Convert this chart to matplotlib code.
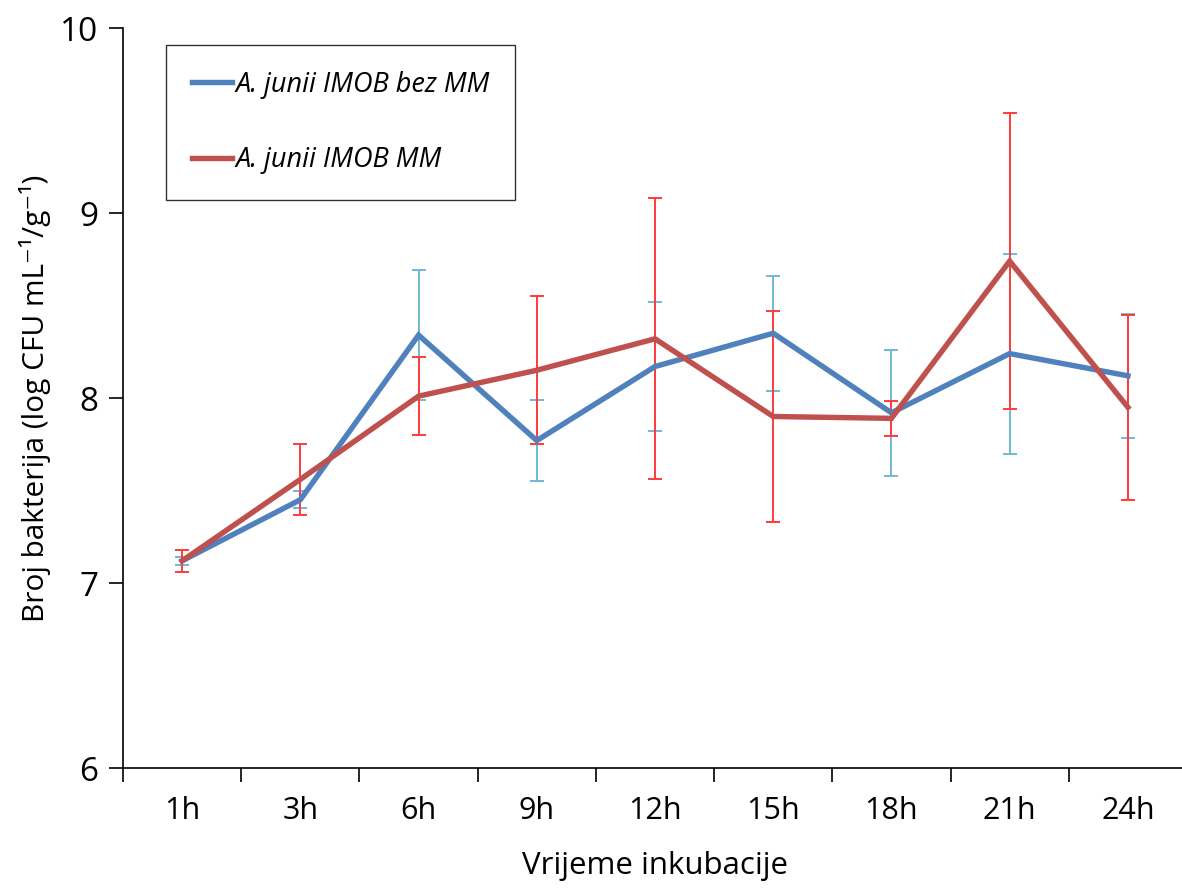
import matplotlib
matplotlib.use("Agg")
import matplotlib.pyplot as plt
import numpy as np

categories = ["1h", "3h", "6h", "9h", "12h", "15h", "18h", "21h", "24h"]
bez_mm = [7.12, 7.45, 8.34, 7.77, 8.17, 8.35, 7.92, 8.24, 8.12]
bez_mm_err = [0.02, 0.045, 0.35, 0.22, 0.35, 0.31, 0.34, 0.54, 0.335]
mm = [7.12, 7.56, 8.01, 8.15, 8.32, 7.90, 7.89, 8.74, 7.95]
mm_err = [0.06, 0.19, 0.21, 0.40, 0.76, 0.57, 0.095, 0.80, 0.50]
series_names = ["A. junii IMOB bez MM", "A. junii IMOB MM"]

plt.rcParams['font.family'] = ['Open Sans', 'DejaVu Sans']

fig = plt.figure(figsize=(11.82, 8.88), dpi=100)
ax = fig.add_axes([123/1182, 120/888, (1187-123)/1182, 740/888])

x = np.arange(len(categories))
ax.errorbar(x, bez_mm, yerr=bez_mm_err, fmt='none', ecolor='#6FBAD3',
            elinewidth=1.4, capsize=5, capthick=1.4, zorder=2)
ax.errorbar(x, mm, yerr=mm_err, fmt='none', ecolor='#FF3B3B',
            elinewidth=1.4, capsize=5, capthick=1.4, zorder=3)
ax.plot(x, bez_mm, color='#4F81BD', lw=3.9, label=series_names[0], zorder=4,
        solid_joinstyle='miter')
ax.plot(x, mm, color='#C0504D', lw=3.9, label=series_names[1], zorder=5,
        solid_joinstyle='miter')

ax.set_ylim(6, 10)
ax.set_yticks([6, 7, 8, 9, 10])
ax.set_xlim(-0.5, len(categories) - 0.5)
ax.set_xticks(x)
ax.set_xticklabels(categories)
ax.set_xticks(np.arange(-0.5, len(categories), 1.0), minor=True)
ax.tick_params(axis='x', which='major', length=0, pad=20, labelsize=22)
ax.tick_params(axis='x', which='minor', length=10, width=1.2, direction='out')
ax.tick_params(axis='y', which='major', length=10, width=1.2, direction='out',
               pad=8, labelsize=24)

for s in ['top', 'right']:
    ax.spines[s].set_visible(False)
for s in ['left', 'bottom']:
    ax.spines[s].set_linewidth(1.2)

ax.set_xlabel("Vrijeme inkubacije", fontsize=22.5, labelpad=18)
ax.set_ylabel("Broj bakterija (log CFU mL⁻¹/g⁻¹)", fontsize=21.5, labelpad=6)

leg = ax.legend(loc='upper left', bbox_to_anchor=(43/1064, 1 - 17/740),
                frameon=True, fancybox=False, edgecolor='black',
                prop={'style': 'italic', 'size': 19.5}, handlelength=1.5,
                handletextpad=0.1, labelspacing=1.75, borderpad=0.95,
                borderaxespad=0)
leg.get_frame().set_linewidth(1.0)

fig.savefig("out.png", dpi=100)
